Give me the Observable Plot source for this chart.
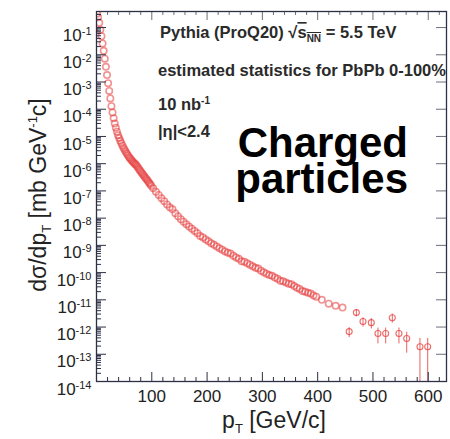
<!DOCTYPE html>
<html><head><meta charset="utf-8">
<script src="https://cdn.jsdelivr.net/npm/d3@7"></script>
<script src="https://cdn.jsdelivr.net/npm/@observablehq/plot@0.6"></script>
<style>
body{margin:0;background:#fff;}
#chart{width:450px;height:439px;}
</style></head><body><div id="chart"></div>
<script>
// dense part of the spectrum (pT in GeV/c, dsigma/dpT in mb GeV^-1 c)
const ptDense = [1,3,5,7,9,11,13,15,17,19,21,23,25,27,29,31,33,35,37,39,41,43,45,47,49,51,53,55,57,59,61,63,65,67,69,71,73,75,77,79,81,83,85,87,89,91,93,95,97,99,
  102.5,107.5,112.5,117.5,122.5,127.5,132.5,137.5,142.5,147.5,152.5,157.5,162.5,167.5,172.5,177.5,182.5,187.5,192.5,197.5,
  202.5,207.5,212.5,217.5,222.5,227.5,232.5,237.5,242.5,247.5,252.5,257.5,262.5,267.5,272.5,277.5,282.5,287.5,292.5,297.5,
  302.5,307.5,312.5,317.5,322.5,327.5,332.5,337.5,342.5,347.5,352.5,357.5,362.5,367.5,372.5,377.5,382.5,387.5,392.5,397.5,
  407.5,420,432.5,445];
const sigmaDense = [3.2e-1,2.4e-1,1.5e-1,8.3e-2,4.8e-2,2.6e-2,1.4e-2,7.2e-3,3.6e-3,1.8e-3,9.1e-4,4.7e-4,2.5e-4,1.3e-4,7.6e-5,4.7e-5,3.0e-5,2.1e-5,1.5e-5,1.12e-5,
  8.7e-6,6.9e-6,5.6e-6,4.6e-6,3.8e-6,3.2e-6,2.7e-6,2.3e-6,2.0e-6,1.74e-6,1.55e-6,1.38e-6,1.23e-6,1.10e-6,1.0e-6,9.3e-7,8.3e-7,7.2e-7,6.3e-7,5.5e-7,
  4.9e-7,4.3e-7,3.8e-7,3.3e-7,2.95e-7,2.6e-7,2.3e-7,2.0e-7,1.78e-7,1.55e-7,
  1.26e-7,9.3e-8,7.1e-8,5.4e-8,4.2e-8,3.2e-8,2.5e-8,2.1e-8,1.5e-8,1.17e-8,9.1e-9,7.4e-9,6.0e-9,4.9e-9,4.1e-9,3.4e-9,2.8e-9,2.2e-9,1.95e-9,1.66e-9,
  1.41e-9,1.2e-9,1.05e-9,9.1e-10,7.9e-10,6.9e-10,6.0e-10,5.4e-10,5.0e-10,4.2e-10,3.6e-10,3.2e-10,2.6e-10,2.5e-10,2.2e-10,1.95e-10,1.7e-10,1.5e-10,1.4e-10,1.17e-10,
  1.02e-10,9.1e-11,8.1e-11,7.6e-11,6.6e-11,5.9e-11,5.0e-11,4.8e-11,4.3e-11,3.9e-11,3.7e-11,3.2e-11,2.8e-11,2.5e-11,2.1e-11,2.0e-11,1.8e-11,1.7e-11,1.45e-11,1.3e-11,
  1.0e-11,7.2e-12,6.0e-12,5.2e-12];
// sparse high-pT tail with statistical errors
const ptTail = [457,470,482,497,509,523,535,547,561,585,599];
const sigmaTail = [6.8e-13,3.4e-12,1.6e-12,1.45e-12,5.8e-13,5.8e-13,2.2e-12,5.8e-13,3.8e-13,1.9e-13,1.9e-13];
const errTail = [2.7e-13,1.0e-12,6e-13,6e-13,3.4e-13,3.4e-13,8e-13,3.4e-13,2.7e-13,1.9e-13,1.9e-13];
// axes
const xTicks = [100,200,300,400,500,600];
const yTicks = [1e-14,1e-13,1e-12,1e-11,1e-10,1e-9,1e-8,1e-7,1e-6,1e-5,1e-4,1e-3,1e-2,1e-1];
const yTickExp = [-14,-13,-12,-11,-10,-9,-8,-7,-6,-5,-4,-3,-2,-1];

const W = 450, H = 439, mL = 96, mR = 4, mT = 11, mB = 58;
const pw = W - mL - mR, ph = H - mT - mB;
const yTop = Math.pow(10, -0.41);

const dense = ptDense.map((pt, i) => ({pt, s: sigmaDense[i]}));
const tail = ptTail.map((pt, i) => ({pt, s: sigmaTail[i], lo: Math.max(sigmaTail[i] - errTail[i], 1e-16), hi: sigmaTail[i] + errTail[i]}));

const xMinor = d3.range(20, 640, 20).filter(v => v % 100 !== 0);
const yMinor = [];
for (let e = -14; e <= -1; e++) for (let m = 2; m <= 9; m++) { const v = m * Math.pow(10, e); if (v < yTop) yMinor.push(v); }

const red = "#e63b3b";
const axisCol = "#2d2f45";

const plot = Plot.plot({
  width: W, height: H, marginLeft: mL, marginRight: mR, marginTop: mT, marginBottom: mB,
  style: {fontFamily: "'Liberation Sans', Arial, sans-serif", background: "#fff", color: "#222"},
  x: {domain: [0, 633]},
  y: {type: "log", domain: [1e-14, yTop]},
  marks: [
    Plot.ruleX(tail, {x: "pt", y1: "lo", y2: "hi", stroke: red, strokeOpacity: 0.8, strokeWidth: 1, clip: true}),
    Plot.dot(dense, {x: "pt", y: "s", r: 3.2, stroke: red, strokeOpacity: 0.55, strokeWidth: 1.6, clip: true}),
    Plot.dot(tail, {x: "pt", y: "s", r: 3, stroke: red, strokeOpacity: 0.75, strokeWidth: 1.1}),
    // inward ticks (bottom / top)
    Plot.tickX(xTicks, {x: d => d, insetTop: ph - 9, stroke: axisCol}),
    Plot.tickX(xMinor, {x: d => d, insetTop: ph - 4, stroke: axisCol}),
    Plot.tickX(xTicks, {x: d => d, insetBottom: ph - 9, stroke: axisCol, strokeOpacity: 0.7}),
    Plot.tickX(xMinor, {x: d => d, insetBottom: ph - 4, stroke: axisCol, strokeOpacity: 0.7}),
    // inward ticks (left / right)
    Plot.tickY(yTicks, {y: d => d, insetRight: pw - 10, stroke: axisCol}),
    Plot.tickY(yMinor, {y: d => d, insetRight: pw - 5, stroke: axisCol}),
    Plot.tickY(yTicks, {y: d => d, insetLeft: pw - 10, stroke: axisCol, strokeOpacity: 0.7}),
    Plot.frame({stroke: axisCol, strokeWidth: 1.3}),
    Plot.axisX({ticks: xTicks, tickSize: 0, tickPadding: 8, fontSize: 17, label: null, tickFormat: d => String(d)}),
    Plot.axisY({ticks: yTicks, tickSize: 0, tickPadding: 5, fontSize: 17, label: null,
      tickFormat: (d, i) => "10^" + yTickExp[yTicks.indexOf(d)]})
  ]
});
document.getElementById("chart").appendChild(plot);

const svg = d3.select(plot);
// superscript y tick labels
svg.selectAll('g[aria-label="y-axis tick label"] text').each(function() {
  const t = this.textContent;
  const exp = t.split("^")[1];
  const sel = d3.select(this);
  sel.text(null).attr("dy", "0.45em").attr("fill", "#222");
  sel.append("tspan").text("10");
  sel.append("tspan").attr("font-size", 11).attr("dy", "-0.55em").text(exp);
});
svg.selectAll('g[aria-label="x-axis tick label"] text').attr("fill", "#222");

const font = "'Liberation Sans', Arial, sans-serif";
// x label
const xl = svg.append("text").attr("x", 274).attr("y", 428).attr("text-anchor", "middle")
  .attr("font-family", font).attr("font-size", 23).attr("fill", "#222");
xl.append("tspan").text("p");
xl.append("tspan").attr("font-size", 13).attr("dy", 5).text("T");
xl.append("tspan").attr("dy", -5).text(" [GeV/c]");
// y label
const yl = svg.append("text").attr("transform", "translate(46,195) rotate(-90)").attr("text-anchor", "middle")
  .attr("font-family", font).attr("font-size", 23).attr("fill", "#222");
yl.append("tspan").text("dσ/dp");
yl.append("tspan").attr("font-size", 13).attr("dy", 5).text("T");
yl.append("tspan").attr("dy", -5).text(" [mb GeV");
yl.append("tspan").attr("font-size", 13).attr("dy", -9).text("-1");
yl.append("tspan").attr("dy", 9).text("c]");

// annotations
const ann = svg.append("g").attr("font-family", font).attr("font-weight", "bold").attr("font-size", 16.5)
  .attr("fill", "#2a2a2a").attr("text-anchor", "start");
const l1 = ann.append("text").attr("x", 160).attr("y", 38);
l1.append("tspan").text("Pythia (ProQ20) √");
l1.append("tspan").attr("text-decoration", "overline").text("s");
l1.append("tspan").attr("font-size", 10).attr("dy", 4).attr("text-decoration", "overline").text("NN");
l1.append("tspan").attr("dy", -4).text(" = 5.5 TeV");
ann.append("text").attr("x", 158).attr("y", 76).text("estimated statistics for PbPb 0-100%");
const l3 = ann.append("text").attr("x", 158).attr("y", 110);
l3.append("tspan").text("10 nb");
l3.append("tspan").attr("font-size", 10).attr("dy", -6).text("-1");
ann.append("text").attr("x", 158).attr("y", 137).text("|η|<2.4");

// big label
const big = svg.append("g").attr("font-family", font).attr("font-weight", "bold").attr("font-size", 42).attr("fill", "#000").attr("text-anchor", "end");
big.append("text").attr("x", 408).attr("y", 157).text("Charged");
big.append("text").attr("x", 408).attr("y", 193).text("particles");
</script>
</body></html>
